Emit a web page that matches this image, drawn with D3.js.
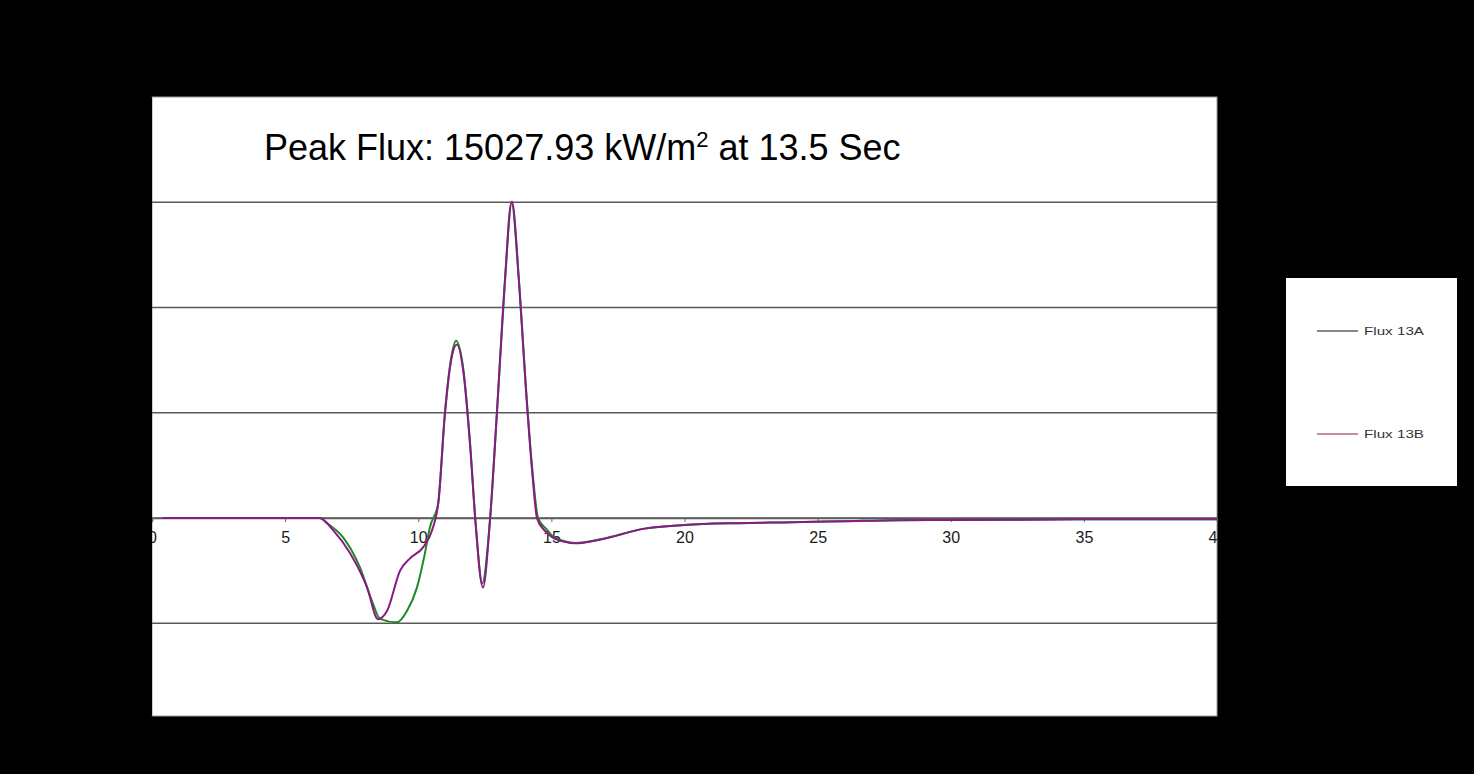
<!DOCTYPE html>
<html>
<head>
<meta charset="utf-8">
<script src="https://cdn.jsdelivr.net/npm/d3@7"></script>
<style>
  html, body { margin: 0; padding: 0; background: #000; }
  svg { display: block; }
</style>
</head>
<body>
<svg id="chart" width="1474" height="774"></svg>
<script>
// ---- data ----
const seriesNames = ["Flux 13A", "Flux 13B"];
const timeA = [0.4, 2, 4, 6, 6.3, 6.57, 7.17, 7.81, 8.3, 8.56, 9.2, 9.58, 9.95, 10.25, 10.44, 10.75, 11.0, 11.25, 11.42, 11.7, 11.95, 12.15, 12.4, 12.7, 12.95, 13.25, 13.5, 13.78, 14.05, 14.3, 14.5, 14.8, 15.0, 15.5, 15.9, 16.9, 18.5, 20, 22, 24, 26, 28, 30, 35, 40];
const fluxA = [0, 0, 0, 0, 0, -240, -909, -2345, -4067, -4785, -4950, -4402, -3302, -1675, -431, 700, 5000, 7700, 8420, 7000, 3500, -150, -3100, 0, 4900, 11100, 15000, 11300, 6100, 2100, 0, -500, -800, -1100, -1180, -990, -500, -330, -240, -200, -150, -100, -90, -60, -50];
const timeB = [0.4, 2, 4, 6, 6.3, 6.8, 7.44, 8.08, 8.49, 8.83, 9.32, 9.69, 10.18, 10.52, 10.75, 11.0, 11.25, 11.45, 11.7, 11.95, 12.15, 12.43, 12.7, 12.95, 13.25, 13.52, 13.78, 14.05, 14.3, 14.46, 14.75, 15.0, 15.5, 15.9, 16.9, 18.5, 20, 22, 24, 26, 28, 30, 35, 40];
const fluxB = [0, 0, 0, 0, 0, -574, -1675, -3302, -4800, -4402, -2488, -1914, -1388, -574, 700, 4900, 7600, 8250, 6900, 3400, -200, -3300, 0, 4900, 11200, 15028, 11300, 6000, 1900, 0, -600, -880, -1130, -1200, -1000, -500, -330, -240, -200, -150, -100, -90, -60, -50];
const xTicks = [0, 5, 10, 15, 20, 25, 30, 35, 40];
const yGrid = [-5000, 0, 5000, 10000, 15000];
const titleText = "Peak Flux: 15027.93 kW/m";
const titleSup = "2";
const titleTail = " at 13.5 Sec";

// ---- layout ----
const svg = d3.select("#chart");
const W = 1474, H = 774;
const plot = { left: 152, right: 1217, top: 97, bottom: 716 };

svg.append("rect").attr("x", 0).attr("y", 0).attr("width", W).attr("height", H).attr("fill", "#000");

const x = d3.scaleLinear().domain([0, 40]).range([plot.left, plot.right]);
const y = d3.scaleLinear().domain([-9400, 20000]).range([plot.bottom, plot.top]);

// plot area
svg.append("rect")
  .attr("x", plot.left).attr("y", plot.top)
  .attr("width", plot.right - plot.left).attr("height", plot.bottom - plot.top)
  .attr("fill", "#fff").attr("stroke", "#9a9a9a").attr("stroke-width", 1);

// gridlines
svg.append("g").selectAll("line").data(yGrid).join("line")
  .attr("x1", plot.left).attr("x2", plot.right)
  .attr("y1", d => y(d)).attr("y2", d => y(d))
  .attr("stroke", "#5a5a5a").attr("stroke-width", 1.5);

// x axis at zero
const xAxis = d3.axisBottom(x).tickValues(xTicks).tickFormat(d3.format("d")).tickSize(4).tickPadding(10);
const gx = svg.append("g").attr("transform", `translate(0,${y(0)})`).call(xAxis);
gx.select(".domain").attr("stroke", "#5a5a5a").attr("stroke-width", 1.5);
gx.selectAll(".tick line").attr("stroke", "#666");
gx.selectAll(".tick text")
  .attr("font-family", "'Liberation Sans', Arial, sans-serif")
  .attr("font-size", 16).attr("fill", "#1a1a1a");

// black side bands that hide parts of the tick labels outside the plot
svg.append("rect").attr("x", 0).attr("y", plot.top).attr("width", plot.left).attr("height", plot.bottom - plot.top).attr("fill", "#000");
svg.append("rect").attr("x", plot.right + 1).attr("y", plot.top).attr("width", W - plot.right).attr("height", plot.bottom - plot.top).attr("fill", "#000");

// lines
const lineGen = d3.line().x(d => x(d[0])).y(d => y(d[1])).curve(d3.curveMonotoneX);
const dataA = timeA.map((t, i) => [t, fluxA[i]]);
const dataB = timeB.map((t, i) => [t, fluxB[i]]);

svg.append("path").datum(dataA).attr("d", lineGen)
  .attr("fill", "none").attr("stroke", "#1d8a26").attr("stroke-width", 2);
svg.append("path").datum(dataB).attr("d", lineGen)
  .attr("fill", "none").attr("stroke", "#8a1a86").attr("stroke-width", 2);

// title
const title = svg.append("text")
  .attr("x", 264).attr("y", 160)
  .attr("font-family", "'Liberation Sans', Arial, sans-serif")
  .attr("font-size", 36).attr("fill", "#000");
title.append("tspan").text(titleText);
title.append("tspan").attr("font-size", 22).attr("dy", -13).text(titleSup);
title.append("tspan").attr("dy", 13).text(titleTail);

// legend
const legend = svg.append("g");
legend.append("rect").attr("x", 1286).attr("y", 278).attr("width", 171).attr("height", 208).attr("fill", "#fff");
const legendColors = ["#111", "#8b1a48"];
const legendY = [331, 434];
seriesNames.forEach((name, i) => {
  legend.append("line").attr("x1", 1317).attr("x2", 1358)
    .attr("y1", legendY[i]).attr("y2", legendY[i])
    .attr("stroke", legendColors[i]).attr("stroke-width", 1.2);
  legend.append("text").attr("x", 1364).attr("y", legendY[i] + 4)
    .attr("font-family", "'Liberation Sans', Arial, sans-serif")
    .attr("font-size", 11.5).attr("fill", "#333")
    .attr("textLength", 60).attr("lengthAdjust", "spacingAndGlyphs")
    .text(name);
});
</script>
</body>
</html>
